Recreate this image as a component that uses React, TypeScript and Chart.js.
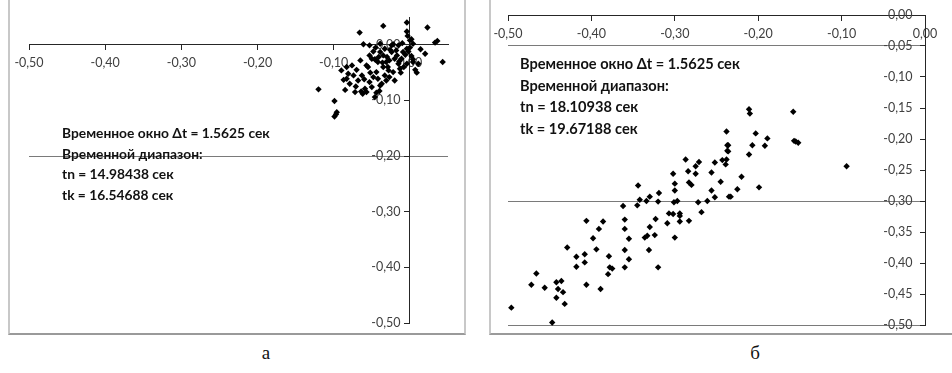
import React, { useEffect, useRef } from 'react';
import { Chart, registerables } from 'chart.js';

Chart.register(...registerables);

// ---- Panel (а) data ----
const leftXValues = [
  -0.035, -0.004, 0.023, -0.066, -0.003, -0.061, -0.053, -0.039, 0.0, 0.004,
  0.033, 0.036, 0.02, 0.043, 0.004, 0.009, 0.007, -0.12, -0.099, -0.096,
  -0.099, -0.097, -0.085, -0.072, -0.059, -0.057, -0.044, -0.079, -0.074, -0.083,
  -0.081, -0.068, -0.063, -0.053, -0.048, -0.042, -0.037, -0.031, -0.02, -0.044,
  -0.055, -0.05, -0.044, -0.042, -0.046, -0.035, -0.031, -0.028, -0.022, -0.013,
  -0.024, -0.017, -0.011, -0.009, -0.004, -0.033, -0.039, -0.053, -0.057, -0.024,
  -0.015, 0.0, -0.004, 0.011, -0.015, -0.035, -0.09, -0.083, -0.05, -0.039,
  -0.064, -0.062, -0.03, -0.027, -0.02, -0.008, 0.002, -0.006, -0.026, -0.018,
  -0.01, 0.002, -0.045, -0.065, -0.07, -0.076, -0.052, -0.06, -0.033, -0.04,
  -0.027, -0.014, 0.004, -0.002, -0.048, -0.029, -0.087, -0.071, -0.046, 0.014,
  -0.012, -0.036, -0.041, -0.004, -0.022,
];
const leftYValues = [
  0.034, 0.04, 0.031, 0.022, 0.016, 0.001, -0.001, 0.002, 0.008, 0.002,
  0.004, 0.007, -0.016, -0.031, -0.031, -0.05, -0.045, -0.08, -0.101, -0.121,
  -0.129, -0.125, -0.081, -0.085, -0.079, -0.085, -0.086, -0.07, -0.055, -0.04,
  -0.052, -0.064, -0.055, -0.067, -0.058, -0.061, -0.07, -0.064, -0.064, -0.049,
  -0.04, -0.025, -0.028, -0.031, -0.026, -0.019, -0.031, -0.046, -0.049, -0.043,
  -0.013, -0.019, -0.025, -0.013, -0.007, -0.007, -0.013, -0.019, -0.037, -0.001,
  -0.001, -0.005, -0.034, -0.034, -0.034, -0.04, -0.046, -0.061, -0.076, -0.073,
  -0.084, -0.088, -0.022, -0.028, -0.025, -0.04, -0.02, -0.018, -0.009, -0.01,
  0.003, 0.01, -0.005, -0.028, -0.045, -0.037, -0.05, -0.062, -0.055, -0.083,
  -0.058, -0.03, -0.026, -0.012, -0.012, -0.04, -0.063, -0.075, -0.094, -0.008,
  -0.05, -0.032, -0.022, 0.024, 0.001,
];

// ---- Panel (б) data ----
const rightXValues = [
  -0.496, -0.447, -0.472, -0.466, -0.456, -0.442, -0.436, -0.44, -0.434, -0.442,
  -0.432, -0.429, -0.418, -0.418, -0.408, -0.408, -0.406, -0.406, -0.386, -0.391,
  -0.398, -0.394, -0.389, -0.379, -0.378, -0.375, -0.38, -0.36, -0.36, -0.36,
  -0.36, -0.355, -0.355, -0.362, -0.345, -0.344, -0.342, -0.334, -0.33, -0.319,
  -0.32, -0.323, -0.33, -0.336, -0.333, -0.324, -0.331, -0.32, -0.309, -0.307,
  -0.302, -0.294, -0.294, -0.3, -0.294, -0.283, -0.301, -0.297, -0.3, -0.3,
  -0.302, -0.283, -0.28, -0.287, -0.284, -0.275, -0.275, -0.271, -0.272, -0.268,
  -0.261, -0.256, -0.256, -0.252, -0.252, -0.245, -0.243, -0.238, -0.236, -0.236,
  -0.235, -0.211, -0.21, -0.158, -0.238, -0.203, -0.189, -0.157, -0.155, -0.152,
  -0.237, -0.237, -0.207, -0.192, -0.211, -0.094, -0.239, -0.22, -0.199, -0.225,
  -0.233,
];
const rightYValues = [
  -0.472, -0.496, -0.435, -0.417, -0.44, -0.431, -0.429, -0.442, -0.447, -0.456,
  -0.466, -0.375, -0.39, -0.406, -0.386, -0.399, -0.435, -0.332, -0.333, -0.345,
  -0.36, -0.378, -0.442, -0.389, -0.407, -0.409, -0.418, -0.33, -0.345, -0.407,
  -0.379, -0.394, -0.361, -0.308, -0.307, -0.275, -0.298, -0.3, -0.293, -0.287,
  -0.301, -0.329, -0.342, -0.359, -0.356, -0.355, -0.379, -0.407, -0.336, -0.32,
  -0.321, -0.32, -0.324, -0.359, -0.333, -0.332, -0.302, -0.3, -0.283, -0.272,
  -0.256, -0.27, -0.274, -0.233, -0.252, -0.244, -0.256, -0.237, -0.302, -0.318,
  -0.3, -0.254, -0.283, -0.294, -0.238, -0.269, -0.234, -0.233, -0.22, -0.21,
  -0.293, -0.152, -0.159, -0.156, -0.188, -0.191, -0.199, -0.203, -0.204, -0.206,
  -0.21, -0.219, -0.21, -0.211, -0.225, -0.244, -0.241, -0.261, -0.278, -0.281,
  -0.293,
];

const leftGridValues = [-0.2];
const rightGridValues = [-0.05, -0.3, -0.5];

const leftNote = [
  'Временное окно Δt = 1.5625 сек',
  'Временной диапазон:',
  'tn = 14.98438 сек',
  'tk = 16.54688 сек',
];
const rightNote = [
  'Временное окно Δt = 1.5625 сек',
  'Временной диапазон:',
  'tn = 18.10938 сек',
  'tk = 19.67188 сек',
];

const fmt = (v: number) => {
  const n = Math.round(v * 100) / 100;
  return (n === 0 ? 0 : n).toFixed(2).replace('.', ',');
};

const TICK_FONT = { family: 'Lato', size: 12.5 };
const TICK_COLOR = '#404040';
const AXIS_COLOR = '#262626';

function makeConfig(
  xs: number[],
  ys: number[],
  xRange: [number, number],
  yRange: [number, number],
  yStep: number,
  gridValues: number[],
  yGap: string,
  padding: { left: number; right: number; top: number; bottom: number }
): any {
  return {
    type: 'scatter',
    data: {
      datasets: [
        {
          data: xs.map((x, i) => ({ x, y: ys[i] })),
          pointStyle: 'rectRot',
          pointRadius: 3.2,
          pointBackgroundColor: '#000',
          pointBorderColor: '#000',
          pointBorderWidth: 0,
          clip: false,
        },
      ],
    },
    options: {
      responsive: false,
      animation: false,
      devicePixelRatio: 1,
      layout: { padding },
      plugins: { legend: { display: false }, tooltip: { enabled: false } },
      scales: {
        x: {
          type: 'linear',
          min: xRange[0],
          max: xRange[1],
          position: { y: 0 },
          afterFit: (s: any) => {
            s.height = 0;
          },
          ticks: {
            stepSize: 0.1,
            includeBounds: false,
            autoSkip: false,
            maxRotation: 0,
            padding: 6,
            color: TICK_COLOR,
            font: TICK_FONT,
            callback: (v: any) => fmt(Number(v)),
          },
          grid: {
            drawOnChartArea: false,
            tickLength: 5,
            tickColor: AXIS_COLOR,
            color: AXIS_COLOR,
          },
          border: { color: AXIS_COLOR, width: 1 },
        },
        y: {
          type: 'linear',
          min: yRange[0],
          max: yRange[1],
          position: { x: 0 },
          afterFit: (s: any) => {
            s.width = 0;
          },
          ticks: {
            stepSize: yStep,
            includeBounds: false,
            autoSkip: false,
            padding: 6,
            color: TICK_COLOR,
            font: TICK_FONT,
            callback: (v: any) => fmt(Number(v)) + yGap,
          },
          grid: {
            tickLength: 5,
            tickColor: AXIS_COLOR,
            color: (ctx: any) => {
              const v = ctx && ctx.tick ? ctx.tick.value : NaN;
              return gridValues.some((g) => Math.abs(v - g) < 1e-6) ? '#7a7a7a' : 'rgba(0,0,0,0)';
            },
          },
          border: { color: AXIS_COLOR, width: 1 },
        },
      },
    },
  };
}

function ScatterCanvas(props: {
  left: number;
  top: number;
  width: number;
  height: number;
  config: any;
}) {
  const ref = useRef<HTMLCanvasElement | null>(null);
  useEffect(() => {
    if (!ref.current) return;
    const chart = new Chart(ref.current, props.config);
    return () => chart.destroy();
  }, []);
  return (
    <canvas
      ref={ref}
      width={props.width}
      height={props.height}
      style={{
        position: 'absolute',
        left: props.left,
        top: props.top,
        width: props.width,
        height: props.height,
        zIndex: 2,
      }}
    />
  );
}

function Note(props: { left: number; top: number; size: number; lineHeight: number; lines: string[] }) {
  return (
    <div
      style={{
        position: 'absolute',
        left: props.left,
        top: props.top,
        fontFamily: 'Lato, "Open Sans", sans-serif',
        fontWeight: 700,
        fontSize: props.size,
        lineHeight: props.lineHeight + 'px',
        color: '#111',
        whiteSpace: 'nowrap',
        zIndex: 3,
      }}
    >
      {props.lines.map((l, i) => (
        <div key={i}>{l}</div>
      ))}
    </div>
  );
}

export default function App() {
  const leftConfig = makeConfig(
    leftXValues,
    leftYValues,
    [-0.5, 0.05],
    [-0.5, 0.05],
    0.1,
    leftGridValues,
    '\u2002\u2009\u2009',
    { left: 29, right: 22, top: 17, bottom: 17 }
  );
  const rightConfig = makeConfig(
    rightXValues,
    rightYValues,
    [-0.5, 0],
    [-0.5, 0],
    0.05,
    rightGridValues,
    '\u2002\u2002',
    { left: 30, right: 27, top: 15, bottom: 15 }
  );
  return (
    <div
      style={{
        position: 'absolute',
        left: 0,
        top: 0,
        width: 952,
        height: 373,
        overflow: 'hidden',
        background: '#fff',
      }}
    >
      <div
        style={{
          position: 'absolute',
          left: 8,
          top: -10,
          width: 458,
          height: 345,
          boxSizing: 'border-box',
          borderLeft: '2px solid #c8c8c8',
          borderRight: '2px solid #c8c8c8',
          borderBottom: '2px solid #9a9a9a',
          zIndex: 1,
        }}
      />
      <div
        style={{
          position: 'absolute',
          left: 489,
          top: -10,
          width: 470,
          height: 345,
          boxSizing: 'border-box',
          borderLeft: '2px solid #c8c8c8',
          borderBottom: '2px solid #9a9a9a',
          zIndex: 1,
        }}
      />
      <ScatterCanvas left={0} top={0} width={470} height={340} config={leftConfig} />
      <ScatterCanvas left={478} top={0} width={474} height={340} config={rightConfig} />
      <Note left={62} top={123} size={13.8} lineHeight={20.5} lines={leftNote} />
      <Note left={520} top={53} size={14.6} lineHeight={21.5} lines={rightNote} />
      <div
        style={{
          position: 'absolute',
          left: 256,
          top: 342,
          width: 20,
          textAlign: 'center',
          fontFamily: '"Liberation Serif", serif',
          fontSize: 19,
          color: '#111',
        }}
      >
        а
      </div>
      <div
        style={{
          position: 'absolute',
          left: 745,
          top: 342,
          width: 20,
          textAlign: 'center',
          fontFamily: '"Liberation Serif", serif',
          fontSize: 19,
          color: '#111',
        }}
      >
        б
      </div>
    </div>
  );
}
